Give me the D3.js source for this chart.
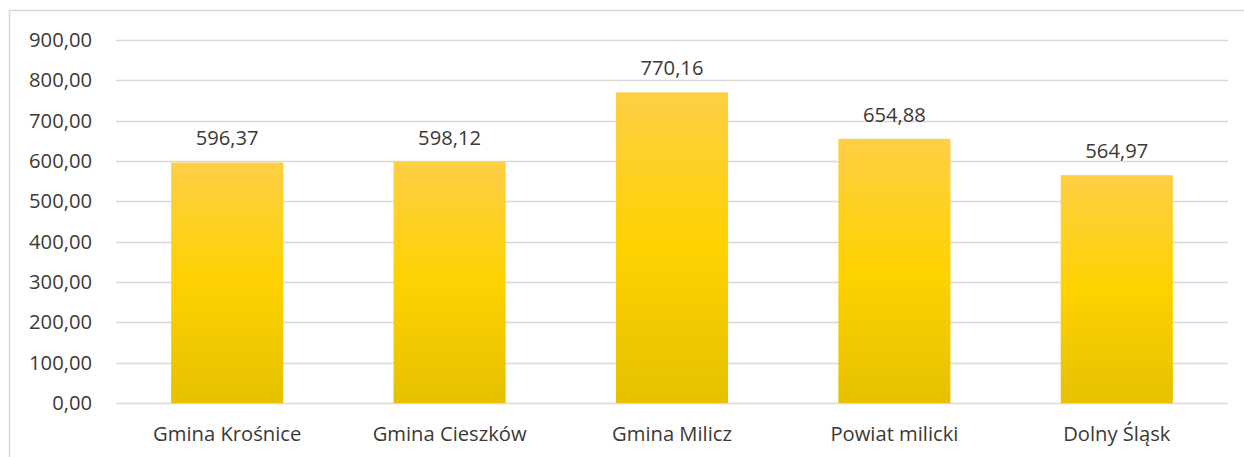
<!DOCTYPE html>
<html><head><meta charset="utf-8">
<script src="https://cdn.jsdelivr.net/npm/d3@7"></script>
<style>
html,body{margin:0;padding:0;background:#fff;}
svg{display:block;font-family:"Open Sans",Lato,sans-serif;}
</style></head>
<body>
<svg id="c" width="1244" height="457"></svg>
<script>
const categories = ["Gmina Krośnice","Gmina Cieszków","Gmina Milicz","Powiat milicki","Dolny Śląsk"];
const values = [596.37, 598.12, 770.16, 654.88, 564.97];
const yTicks = [0,100,200,300,400,500,600,700,800,900];

const W = 1244, H = 457;
const FS = 20.2;
const m = {left:116, right:1228, top:40, bottom:403};
const svg = d3.select("#c");
const fmt = v => d3.format(",.2f")(v).replace(/,/g," ").replace(".",",");

// frame
svg.append("path").attr("d",`M9.5,${H} V10.5 H${W}`).attr("fill","none").attr("stroke","#d9d6d3").attr("stroke-width",1.5);

const x = d3.scaleBand().domain(categories).range([m.left,m.right]).paddingInner(0.496).paddingOuter(0.248);
const y = d3.scaleLinear().domain([0,900]).range([m.bottom,m.top]);

const defs = svg.append("defs");
const g = defs.append("linearGradient").attr("id","gr").attr("x1",0).attr("x2",0).attr("y1",0).attr("y2",1);
g.append("stop").attr("offset","0%").attr("stop-color","#fecf45");
g.append("stop").attr("offset","50%").attr("stop-color","#ffd200");
g.append("stop").attr("offset","100%").attr("stop-color","#e5c100");

// grid
svg.append("g").selectAll("line").data(yTicks).join("line")
  .attr("x1",m.left).attr("x2",m.right)
  .attr("y1",d=>Math.round(y(d))+0.5).attr("y2",d=>Math.round(y(d))+0.5)
  .attr("stroke","#dcd8d4").attr("stroke-width",1.5);

// y axis labels
const ya = d3.axisLeft(y).tickValues(yTicks).tickSize(0).tickPadding(0).tickFormat(fmt);
const yg = svg.append("g").attr("transform",`translate(${m.left-24},0)`).call(ya);
yg.select(".domain").remove();
yg.selectAll("text").attr("font-size",FS).attr("fill","#3d3935").attr("font-family","'Open Sans',sans-serif");

// bars
svg.append("g").selectAll("rect").data(values).join("rect")
  .attr("x",(d,i)=>x(categories[i]))
  .attr("width",x.bandwidth())
  .attr("y",d=>y(d))
  .attr("height",d=>y(0)-y(d))
  .attr("fill","url(#gr)");

// value labels
svg.append("g").selectAll("text").data(values).join("text")
  .attr("x",(d,i)=>x(categories[i])+x.bandwidth()/2)
  .attr("y",d=>y(d)-17)
  .attr("text-anchor","middle")
  .attr("font-size",FS).attr("fill","#3d3935")
  .text(fmt);

// x axis labels
const xa = d3.axisBottom(x).tickSize(0).tickPadding(0);
const xg = svg.append("g").attr("transform",`translate(0,${m.bottom+24})`).call(xa);
xg.select(".domain").remove();
xg.selectAll("text").attr("font-size",FS).attr("fill","#3d3935").attr("font-family","'Open Sans',sans-serif").attr("dy","0.71em");
</script>
</body></html>
